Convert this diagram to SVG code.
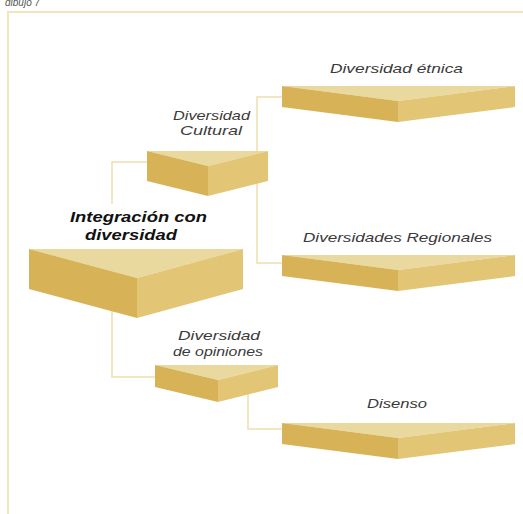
<svg xmlns="http://www.w3.org/2000/svg" width="523" height="514" viewBox="0 0 523 514">
  <style>
    .frame { fill: none; stroke: #f3e4bb; stroke-width: 2; }
    .link { fill: none; stroke: #f0dfae; stroke-width: 1.5; }
    .top { fill: #e9d99f; }
    .left { fill: #d8b257; }
    .right { fill: #e3c576; }
    .label { font-family: "Liberation Sans", Arial, sans-serif; font-style: italic; font-size: 13.5px; fill: #3a3a3a; }
    .title { font-family: "Liberation Sans", Arial, sans-serif; font-style: italic; font-weight: bold; font-size: 15px; fill: #111; }
    .caption { font-family: "Liberation Sans", Arial, sans-serif; font-style: italic; font-size: 10px; fill: #555; }
  </style>

  <rect width="523" height="514" fill="#ffffff"/>

  <!-- page caption and frame -->
  <text class="caption" x="5" y="6">dibujo 7</text>
  <path class="frame" d="M8,514 V12 H523"/>

  <!-- connectors -->
  <g id="connectors">
    <path class="link" d="M147,162 H112 V204"/>
    <path class="link" d="M112,300 V377 H155"/>
    <path class="link" d="M282,97 H257 V263 H282"/>
    <path class="link" d="M248,380 V429 H282"/>
  </g>

  <!-- main node -->
  <g id="integracion">
    <polygon class="top" points="29,249 243,249 137,278"/>
    <polygon class="left" points="29,249 137,278 137,318 29,289"/>
    <polygon class="right" points="137,278 243,249 243,289 137,318"/>
    <text class="title" x="70" y="222" textLength="137" lengthAdjust="spacingAndGlyphs">Integración con</text>
    <text class="title" x="85" y="240" textLength="92" lengthAdjust="spacingAndGlyphs">diversidad</text>
  </g>

  <g id="cultural">
    <polygon class="top" points="147,151 268,151 208,166"/>
    <polygon class="left" points="147,151 208,166 208,196 147,181"/>
    <polygon class="right" points="208,166 268,151 268,181 208,196"/>
    <text class="label" x="173" y="120" textLength="77" lengthAdjust="spacingAndGlyphs">Diversidad</text>
    <text class="label" x="180" y="135" textLength="62" lengthAdjust="spacingAndGlyphs">Cultural</text>
  </g>

  <g id="etnica">
    <polygon class="top" points="282,86 515,86 398,101"/>
    <polygon class="left" points="282,86 398,101 398,122 282,107"/>
    <polygon class="right" points="398,101 515,86 515,107 398,122"/>
    <text class="label" x="330" y="73" textLength="133" lengthAdjust="spacingAndGlyphs">Diversidad étnica</text>
  </g>

  <g id="regionales">
    <polygon class="top" points="282,255 515,255 398,270"/>
    <polygon class="left" points="282,255 398,270 398,291 282,276"/>
    <polygon class="right" points="398,270 515,255 515,276 398,291"/>
    <text class="label" x="303" y="242" textLength="189" lengthAdjust="spacingAndGlyphs">Diversidades Regionales</text>
  </g>

  <g id="opiniones">
    <polygon class="top" points="155,365 278,365 218,380"/>
    <polygon class="left" points="155,365 218,380 218,402 155,387"/>
    <polygon class="right" points="218,380 278,365 278,387 218,402"/>
    <text class="label" x="178" y="340" textLength="82" lengthAdjust="spacingAndGlyphs">Diversidad</text>
    <text class="label" x="173" y="356" textLength="90" lengthAdjust="spacingAndGlyphs">de opiniones</text>
  </g>

  <g id="disenso">
    <polygon class="top" points="282,423 515,423 398,438"/>
    <polygon class="left" points="282,423 398,438 398,459 282,444"/>
    <polygon class="right" points="398,438 515,423 515,444 398,459"/>
    <text class="label" x="367" y="408" textLength="60" lengthAdjust="spacingAndGlyphs">Disenso</text>
  </g>
</svg>
